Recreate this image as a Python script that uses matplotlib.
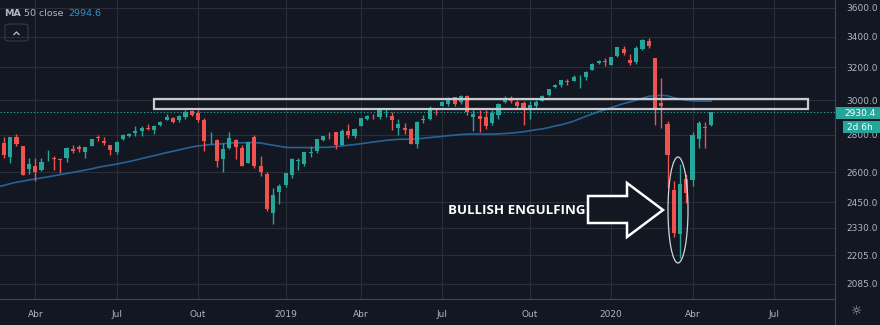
import numpy as np
import pandas as pd
import matplotlib
matplotlib.use("Agg")
import matplotlib.pyplot as plt
import matplotlib.dates as mdates
from matplotlib.patches import Rectangle, Ellipse, Polygon, FancyBboxPatch
from matplotlib.lines import Line2D
from matplotlib.ticker import NullLocator

# weekly candles, week of 2018-02-19 .. week of 2020-04-27
opens = [2722, 2757, 2681, 2790, 2741, 2619, 2633, 2611, 2668, 2675, 2669, 2675, 2722, 2735, 2705, 2741,
         2787, 2766, 2742, 2704, 2776, 2796, 2810, 2819, 2840, 2827, 2853, 2885, 2896, 2881, 2903, 2933,
         2926, 2882, 2764, 2773, 2670, 2727, 2773, 2730, 2650, 2790, 2630, 2591, 2400, 2498,
         2535, 2586, 2657, 2644, 2703, 2712, 2769, 2805, 2814, 2747, 2823, 2796, 2848, 2888, 2908, 2898,
         2940, 2908, 2840, 2841, 2830, 2751, 2885, 2889, 2951, 2964, 2979, 3017, 2986, 3024, 2898, 2907,
         2898, 2866, 2910, 2988, 3006, 2986, 2983, 2944, 2965, 2996, 3032, 3078, 3090, 3117, 3117, 3144,
         3141, 3183, 3227, 3240,
         3217, 3271, 3321, 3247, 3235, 3318, 3370, 3257, 2980, 2860, 2508, 2300, 2566, 2560, 2775, 2845, 2855]
highs = [2754, 2789, 2787, 2802, 2741, 2674, 2673, 2675, 2718, 2683, 2677, 2733, 2743, 2742, 2736, 2779,
         2801, 2790, 2746, 2764, 2804, 2812, 2848, 2848, 2863, 2855, 2877, 2916, 2900, 2912, 2940, 2939,
         2939, 2894, 2817, 2779, 2756, 2816, 2775, 2747, 2763, 2800, 2685, 2601, 2520, 2539,
         2597, 2675, 2672, 2709, 2738, 2778, 2795, 2814, 2816, 2831, 2860, 2836, 2894, 2910, 2918, 2940,
         2954, 2932, 2892, 2865, 2841, 2876, 2911, 2964, 2955, 2996, 3018, 3018, 3028, 3028, 2944, 2943,
         2939, 2940, 2985, 3021, 3022, 3002, 2993, 2993, 3000, 3027, 3068, 3098, 3122, 3127, 3154, 3150,
         3176, 3226, 3247, 3259,
         3267, 3330, 3338, 3285, 3338, 3385, 3393, 3260, 3136, 2880, 2553, 2641, 2590, 2818, 2880, 2870, 2931]
lows = [2697, 2675, 2647, 2741, 2585, 2593, 2553, 2606, 2660, 2612, 2594, 2655, 2702, 2707, 2676, 2741,
        2765, 2743, 2692, 2698, 2770, 2790, 2795, 2795, 2825, 2802, 2848, 2885, 2864, 2874, 2887, 2904,
        2874, 2710, 2749, 2628, 2603, 2722, 2670, 2631, 2649, 2621, 2583, 2408, 2347, 2444,
        2525, 2570, 2612, 2631, 2681, 2703, 2768, 2775, 2722, 2745, 2785, 2785, 2848, 2883, 2892, 2890,
        2900, 2825, 2801, 2805, 2750, 2728, 2867, 2883, 2913, 2964, 2964, 2967, 2979, 2914, 2822, 2817,
        2835, 2856, 2891, 2983, 2985, 2946, 2856, 2891, 2953, 2992, 3024, 3074, 3079, 3092, 3116, 3070,
        3124, 3183, 3222, 3212,
        3213, 3264, 3280, 3214, 3222, 3315, 3328, 2855, 2840, 2520, 2286, 2192, 2447, 2530, 2730, 2727, 2850]
closes = [2747, 2691, 2786, 2752, 2588, 2641, 2604, 2656, 2670, 2670, 2663, 2728, 2713, 2721, 2735, 2779,
          2780, 2755, 2718, 2760, 2801, 2802, 2819, 2840, 2833, 2850, 2875, 2902, 2872, 2904, 2930, 2914,
          2885, 2767, 2768, 2658, 2723, 2781, 2736, 2633, 2760, 2633, 2600, 2417, 2486, 2532,
          2596, 2671, 2665, 2707, 2708, 2776, 2793, 2804, 2743, 2822, 2800, 2834, 2893, 2907, 2905, 2940,
          2946, 2881, 2860, 2826, 2752, 2873, 2887, 2950, 2942, 2990, 3014, 2977, 3026, 2932, 2919, 2889,
          2847, 2926, 2979, 3007, 2992, 2962, 2952, 2970, 2986, 3023, 3067, 3093, 3120, 3110, 3141, 3146,
          3169, 3221, 3240, 3235,
          3265, 3330, 3295, 3226, 3328, 3380, 3338, 2954, 2965, 2690, 2305, 2540, 2496, 2800, 2866, 2837, 2930.4]
# weekly closes before the window (Mar 2017 .. Feb 2018), only used for the 50 week MA
pre_closes = [2383, 2372, 2378, 2344, 2363, 2355, 2329, 2349, 2384, 2399, 2391, 2382, 2416, 2439, 2432, 2433,
              2438, 2423, 2425, 2459, 2473, 2472, 2477, 2441, 2426, 2443, 2477, 2461, 2500, 2502, 2519, 2549,
              2553, 2575, 2581, 2588, 2582, 2579, 2602, 2642, 2652, 2675, 2683, 2674, 2743, 2786, 2810, 2873,
              2762, 2620, 2732]

price_ticks = [2085, 2205, 2330, 2450, 2600, 2800, 3000, 3200, 3400, 3600]
month_names = {4: "Abr", 7: "Jul", 10: "Out"}
zone_top, zone_bottom = 3006, 2947
zone_start, zone_end = "2018-08-13", "2020-08-13"
last_price = "2930.4"
ma_value = "2994.6"
countdown = "2d 6h"
note = "BULLISH ENGULFING"

bg = "#131722"
gridc = "#2a2e39"
up = "#26a69a"
down = "#ef5350"
txt = "#b2b5be"
sep = "#434651"

W, H = 880, 325
fig = plt.figure(figsize=(W / 100, H / 100), dpi=100, facecolor=bg)
ax = fig.add_axes([0, 26 / H, 835 / W, 299 / H], facecolor=bg)


def px(x, y):
    return x / W, 1 - y / H


dates = pd.date_range("2018-02-19", periods=len(closes), freq="W-MON")
x = mdates.date2num(dates)
o, h, l, c = map(np.array, (opens, highs, lows, closes))
cols = np.where(c >= o, up, down)

ax.vlines(x, l, h, colors=cols, lw=1, zorder=3)
body = np.maximum(np.abs(c - o), 2.5)
ax.bar(x, body, bottom=np.minimum(o, c), width=4.6, color=cols, lw=0, zorder=4)

ma = pd.Series(pre_closes + closes).rolling(50).mean().to_numpy()[len(pre_closes):]
ax.plot(x, ma, color="#2b6aa3", lw=1.2, alpha=0.9, zorder=2)

ax.axhline(float(last_price), color=up, ls=(0, (1.2, 1.8)), lw=0.8, zorder=2)

z0, z1 = mdates.date2num(pd.Timestamp(zone_start)), mdates.date2num(pd.Timestamp(zone_end))
ax.add_patch(Rectangle((z0, zone_bottom), z1 - z0, zone_top - zone_bottom,
                       fill=False, ec="#c9cbd1", lw=1.6, zorder=5))

left = x[0] + 2.6
ax.set_xlim(left, left + 835 / 0.8943)
ax.set_yscale("log")
ax.set_ylim(2023, 3657)

ax.yaxis.tick_right()
ax.set_yticks(price_ticks)
ax.set_yticklabels([f"{p:.1f}" for p in price_ticks])
ax.yaxis.set_minor_locator(NullLocator())
ax.tick_params(axis="y", length=0, pad=8, labelsize=6.5, labelcolor=txt)

ext = pd.date_range("2018-02-19", "2020-09-28", freq="W-MON")
tdates = [d for i, d in enumerate(ext)
          if d.month in (1, 4, 7, 10) and (i == 0 or ext[i - 1].month != d.month)]
ax.set_xticks(mdates.date2num(tdates))
ax.set_xticklabels([str(d.year) if d.month == 1 else month_names[d.month] for d in tdates])
ax.tick_params(axis="x", length=0, pad=8, labelsize=6.5, labelcolor=txt)

ax.grid(True, color=gridc, lw=0.8)
ax.set_axisbelow(True)
for s in ax.spines.values():
    s.set_visible(False)

# panel separators
fig.add_artist(Line2D([835 / W, 835 / W], [0, 1], color=sep, lw=0.8, transform=fig.transFigure))
fig.add_artist(Line2D([0, 835 / W], [1 - 299 / H, 1 - 299 / H], color=sep, lw=0.8, transform=fig.transFigure))

# last price and countdown tags
fig.add_artist(Rectangle(px(835, 119), 45 / W, 12 / H, transform=fig.transFigure, fc=up, ec="none"))
fig.text(*px(844, 113), last_price, color="white", fontsize=6.5, va="center", ha="left")
fig.add_artist(Rectangle(px(843, 133), 37 / W, 12 / H, transform=fig.transFigure, fc=up, ec="none"))
fig.text(*px(847, 127), countdown, color="white", fontsize=6.5, va="center", ha="left")

# legend at top left
fig.text(*px(4, 13), "MA", color=txt, fontsize=6.8, fontweight="bold", va="center")
fig.text(*px(24, 13), "50 close", color=txt, fontsize=6.8, va="center")
fig.text(*px(68, 13), ma_value, color="#2f8fd0", fontsize=6.8, va="center")
fig.add_artist(FancyBboxPatch(px(5, 41), 23 / W, 17 / H, boxstyle="round,pad=0,rounding_size=0.006",
                              transform=fig.transFigure, fc="none", ec="#363a45", lw=0.8))
fig.add_artist(Line2D([14 / W, 16.5 / W, 19 / W], [1 - 34.5 / H, 1 - 32 / H, 1 - 34.5 / H],
                      color=txt, lw=1, transform=fig.transFigure))

# annotation: arrow, ellipse and label
arrow = [(588, 196), (627, 196), (627, 183), (663, 210), (627, 237), (627, 223), (588, 223)]
fig.add_artist(Polygon([px(a, b) for a, b in arrow], closed=True, transform=fig.transFigure,
                       fc=bg, ec="white", lw=1.8, joinstyle="miter"))
fig.add_artist(Ellipse(px(678, 210), 20 / W, 106 / H, transform=fig.transFigure,
                       fill=False, ec="#d1d4dc", lw=0.9))
fig.text(*px(448, 211), note, color="white", fontsize=9.5, fontweight="bold",
         family="Open Sans", va="center", ha="left")

fig.text(*px(857, 312), "\u263c", color=txt, fontsize=9, va="center", ha="center")

fig.savefig("out.png", dpi=100, facecolor=bg)
